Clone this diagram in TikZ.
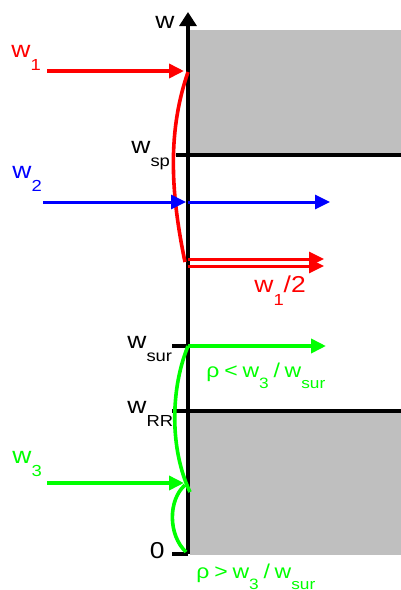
\documentclass[tikz,border=0pt]{standalone}
\usepackage{fontspec}
\setmainfont[FakeStretch=1.15]{Liberation Sans}
\usetikzlibrary{arrows.meta}
\newcommand{\lo}[1]{\raisebox{-6.5pt}{\fontsize{8}{9}\selectfont #1}}
\newcommand{\los}[1]{\raisebox{-5.5pt}{\fontsize{7.5}{9}\selectfont #1}}
\newcommand{\gap}{\hspace{2.4pt}}

\begin{document}
\begin{tikzpicture}[x=0.5pt,y=-0.5pt,>={Triangle[length=7.5pt,width=7pt]},
  every node/.style={font=\fontsize{11.5}{13}\selectfont,inner sep=0pt},
  ratio/.style={green,anchor=base west,font=\fontsize{10}{12}\selectfont},
  ax/.style={line width=1.6pt},
  flow/.style={line width=1.8pt,->},
  twin/.style={line width=1.5pt,->},
  zone/.style={fill=black!25,draw=none}]
\useasboundingbox (0,0) rectangle (401,590);
% shaded zones
\fill[zone] (190,30) rectangle (401,155);
\fill[zone] (190,411) rectangle (401,555);
% axis and levels
\coordinate (o) at (188,554); \coordinate (top) at (188,12);
\draw[ax,-{Triangle[length=7pt,width=8.5pt]}] (o) -- (top);
\node[anchor=base east] (wax) at (175,28) {w};
\coordinate (spL) at (176,155); \coordinate (spR) at (401,155);
\coordinate (rrL) at (172,411); \coordinate (rrR) at (401,411);
\coordinate (surL) at (172,346); \coordinate (surR) at (188,346);
\coordinate (zL) at (172,554);
\draw[ax] (spL) -- (spR); \draw[ax] (rrL) -- (rrR); \draw[ax] (surL) -- (surR); \draw[ax] (zL) -- (o);
\node[anchor=base west] (wsp) at (131,153) {w\lo{sp}};
\node[anchor=base west] (wsur) at (127,348) {w\lo{sur}};
\node[anchor=base west] (wrr) at (127,413) {w\lo{RR}};
\node[anchor=base east] (zero) at (165,558) {0};
% red beam
\node[red,anchor=base west] (w1) at (11,57) {w\lo{1}};
\coordinate (r0) at (47,71); \coordinate (r1) at (184,71);
\draw[flow,red] (r0) -- (r1);
\coordinate (ra) at (188,72); \coordinate (rb) at (185,262);
\draw[red,line width=1.8pt] (ra) .. controls (168,130) and (170,190) .. (rb);
\coordinate (h1) at (188,259); \coordinate (h1e) at (324,259);
\coordinate (h2) at (188,266); \coordinate (h2e) at (324,266);
\draw[twin,red] (h1) -- (h1e); \draw[twin,red] (h2) -- (h2e);
\node[red,anchor=base west] (whalf) at (254,292) {w\lo{1}/2};
% blue beam
\node[blue,anchor=base west] (w2) at (12,178) {w\lo{2}};
\coordinate (b0) at (43,202); \coordinate (b1) at (186,202); \coordinate (b2) at (330,202);
\draw[flow,blue,line width=1.5pt] (b0) -- (b1); \draw[flow,blue,line width=1.5pt] (surR |- b1) -- (b2);
% green beam
\node[green,anchor=base west] (w3) at (12,463) {w\lo{3}};
\coordinate (g0) at (47,483); \coordinate (g1) at (184,483);
\draw[flow,green] (g0) -- (g1);
\coordinate (gs) at (326,346);
\draw[flow,green] (surR) -- (gs);
\coordinate (ga) at (190,492); \coordinate (gb) at (185,485); \coordinate (gc) at (186,552);
\draw[green,line width=1.8pt] (surR) .. controls (170,390) and (170,450) .. (ga);
\draw[green,line width=1.8pt] (gb) .. controls (168,500) and (168,535) .. (gc);
\node[ratio] (lt) at (206,377) {ρ\gap<\gap w\los{3}\gap/\gap w\los{sur}};
\node[ratio] (gt) at (196,578) {ρ\gap>\gap w\los{3}\gap/\gap w\los{sur}};
\end{tikzpicture}
\end{document}
